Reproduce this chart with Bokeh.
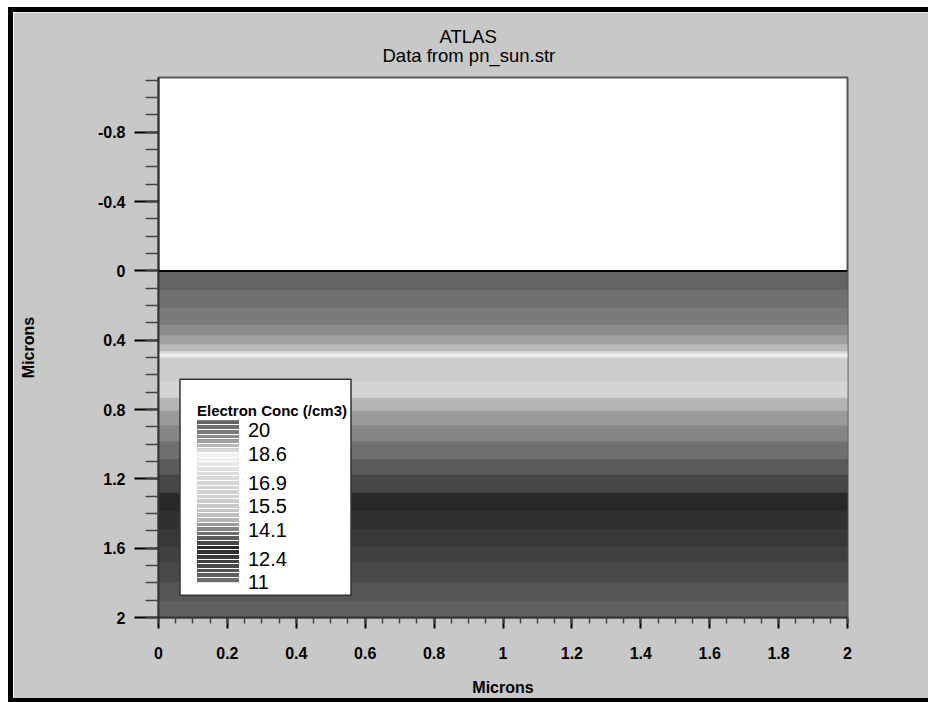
from bokeh.plotting import figure
from bokeh.models import (Range1d, ColorBar, LinearColorMapper, FixedTicker,
                          SingleIntervalTicker, CustomJSTickFormatter, Span, Title,
                          ColumnDataSource, BoxAnnotation, Label, GlobalInlineStyleSheet)
from bokeh.embed import file_html
from bokeh.resources import INLINE

# ---- data ----
# device lateral extent (microns)
x_min, x_max = 0.0, 2.0
# depth edges of the filled contour bands (microns)
band_edges = [0.0, 0.113, 0.215, 0.313, 0.375, 0.427, 0.467, 0.481, 0.496, 0.507,
              0.638, 0.735, 0.81, 0.895, 0.987, 1.09, 1.18, 1.284, 1.387, 1.49,
              1.593, 1.69, 1.798, 1.907, 2.0]
# log10 electron concentration level of each band
band_levels = [20.45, 20.2, 19.9, 19.65, 19.35, 19.1, 18.8, 18.55, 17.7, 15.8,
               16.6, 14.7, 14.4, 14.15, 13.9, 13.6, 13.35, 13.05, 12.8, 12.5,
               12.25, 11.95, 11.7, 11.4]
# colour scale (top = high concentration, bottom = low)
palette_top_to_bottom = [
    "#636363", "#707070", "#7a7a7a", "#8c8c8c", "#a0a0a0", "#b8b8b8", "#d8d8d8",
    "#f2f2f2", "#eeeeee", "#e6e6e6", "#e0e0e0", "#dcdcdc", "#d8d8d8", "#d6d6d6",
    "#d4d4d4", "#d2d2d2", "#d0d0d0", "#cccccc", "#c8c8c8", "#c4c4c4", "#bfbfbf",
    "#b4b4b4", "#9a9a9a", "#858585", "#707070", "#5a5a5a", "#474747", "#282828",
    "#303030", "#383838", "#404040", "#4a4a4a", "#555555", "#606060", "#6c6c6c"]
scale_low, scale_high = 11.0, 20.61
legend_ticks = [11, 12.4, 14.1, 15.5, 16.9, 18.6, 20]
legend_title = "Electron Conc (/cm3)"
title_main = "ATLAS"
title_sub = "Data from pn_sun.str"
x_label = "Microns"
y_label = "Microns"

FONT = "Liberation Sans"

palette = list(reversed(palette_top_to_bottom))
mapper = LinearColorMapper(palette=palette, low=scale_low, high=scale_high)
n_col = len(palette)
stripe_bounds = [scale_low + k * (scale_high - scale_low) / n_col for k in range(1, n_col)]

src = ColumnDataSource(dict(
    top=band_edges[:-1], bottom=band_edges[1:], level=band_levels,
    left=[x_min] * len(band_levels), right=[x_max] * len(band_levels)))

p = figure(width=915, height=686, output_backend="svg", toolbar_location=None,
           title=None,
           x_range=Range1d(0, 2), y_range=Range1d(2, -1.116),
           min_border_left=145, min_border_right=81, min_border_top=65,
           min_border_bottom=76)
p.stylesheets = [GlobalInlineStyleSheet(css="html, body { overflow: hidden !important; }")]
p.styles = {"margin-left": "13px", "margin-top": "12px", "vertical-align": "top",
            "box-shadow": ("-5px 0 0 0 black, 0 -5px 0 0 black, 0 5px 0 0 black, "
                           "-5px -5px 0 0 black, -5px 5px 0 0 black")}
p.background_fill_color = "white"
p.border_fill_color = "#c8c8c8"
p.outline_line_color = "#555555"
p.outline_line_width = 2
p.grid.visible = False

band_color = {"field": "level", "transform": mapper}
p.quad(left="left", right="right", top="top", bottom="bottom", source=src,
       fill_color=band_color, line_color=band_color, line_width=1)
p.add_layout(Span(location=0, dimension="width", line_color="black", line_width=2))

fmt = CustomJSTickFormatter(code="return (Math.round(tick*10)/10).toString();")

p.xaxis.ticker = SingleIntervalTicker(interval=0.2, num_minor_ticks=4)
p.yaxis.ticker = SingleIntervalTicker(interval=0.4, num_minor_ticks=4)
for ax in (p.xaxis, p.yaxis):
    ax.formatter = fmt
    ax.major_label_text_font = FONT
    ax.major_label_text_font_style = "bold"
    ax.major_label_text_font_size = "16px"
    ax.major_label_text_color = "black"
    ax.axis_label_text_font = FONT
    ax.axis_label_text_font_style = "bold"
    ax.axis_label_text_font_size = "16px"
    ax.axis_label_text_color = "black"
    ax.axis_line_color = "#333333"
    ax.axis_line_width = 2
    ax.major_tick_line_color = "black"
    ax.major_tick_line_width = 2
    ax.minor_tick_line_color = "#444444"
    ax.minor_tick_line_width = 1.5
    ax.major_tick_in = 0
    ax.minor_tick_in = 0

p.xaxis.axis_label = x_label
p.yaxis.axis_label = y_label
p.xaxis.major_tick_out = 11
p.xaxis.minor_tick_out = 6
p.xaxis.major_label_standoff = 18
p.xaxis.axis_label_standoff = 17
p.yaxis.major_tick_out = 24
p.yaxis.minor_tick_out = 13
p.yaxis.major_label_standoff = 9
p.yaxis.axis_label_standoff = 58

# titles (inner one added first); offsets centre them on the whole canvas
p.add_layout(Title(text=title_sub, align="left", offset=224, text_font=FONT,
                   text_font_size="18.5px", text_font_style="normal",
                   text_color="black", standoff=20, vertical_align="top"), "above")
p.add_layout(Title(text=title_main, align="left", offset=281, text_font=FONT,
                   text_font_size="18.5px", text_font_style="normal",
                   text_color="black", standoff=-24, vertical_align="bottom"), "above")

# legend box, title and colour bar (positions in screen px from frame bottom-left)
p.add_layout(BoxAnnotation(left=21.5, right=192.5, bottom=22.3, top=238.3,
                           left_units="screen", right_units="screen",
                           top_units="screen", bottom_units="screen",
                           fill_color="white", fill_alpha=1.0,
                           line_color="#333333", line_width=1.5, line_alpha=1.0))
p.add_layout(Label(x=38.5, y=206.6, x_units="screen", y_units="screen",
                   text=legend_title, text_font=FONT, text_font_size="15px",
                   text_font_style="bold", text_color="black",
                   text_baseline="alphabetic"))
cb = ColorBar(color_mapper=mapper, location=(38.5, 35.3), orientation="vertical",
              width=42, height=162, padding=0, margin=0,
              ticker=FixedTicker(ticks=legend_ticks, minor_ticks=stripe_bounds),
              formatter=fmt,
              major_label_text_font=FONT, major_label_text_font_size="20px",
              major_label_text_color="black", label_standoff=9,
              major_tick_line_color=None,
              minor_tick_line_color="white", minor_tick_line_width=1.2,
              minor_tick_in=42, minor_tick_out=0,
              bar_line_color=None, background_fill_alpha=0.0,
              border_line_color=None)
p.add_layout(cb)

open("out.html", "w").write(file_html(p, INLINE))
